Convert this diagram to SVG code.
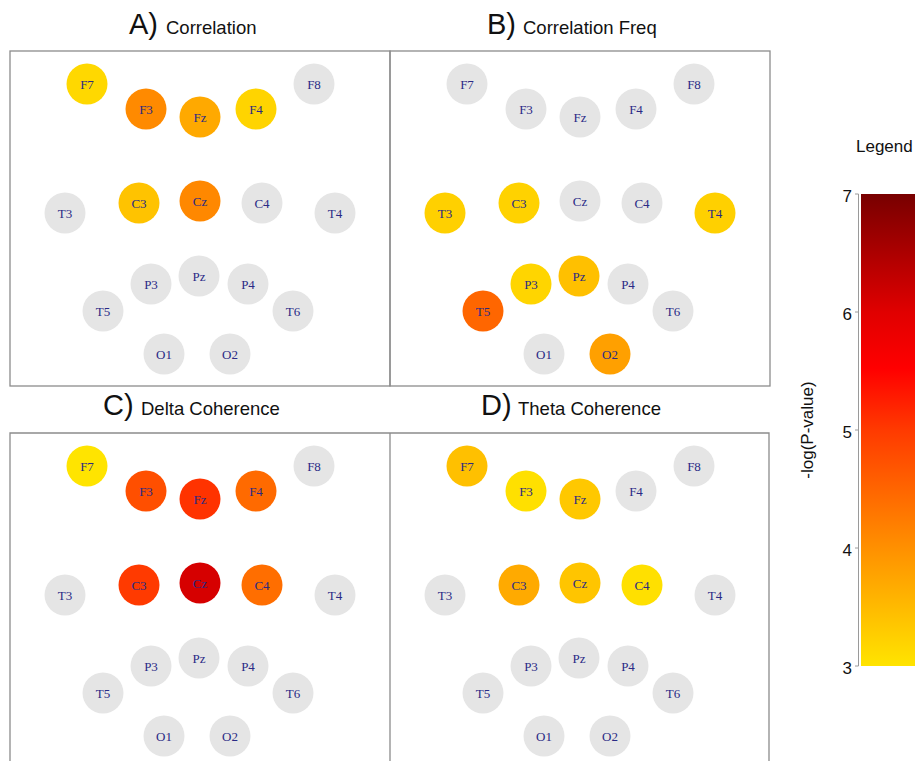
<svg xmlns="http://www.w3.org/2000/svg" width="919" height="761" viewBox="0 0 919 761">
<style>
.bg{fill:#ffffff}
.frame{fill:none;stroke:#8c8c8c;stroke-width:1.3}
.n circle{stroke:none}
.g{fill:#e5e5e5}
.n text{font-family:"Liberation Serif","Times New Roman",serif;font-size:13px;fill:#2a2a85;text-anchor:middle}
.tb{font-family:"Liberation Sans",Arial,sans-serif;font-size:29px;fill:#111}
.ts{font-family:"Liberation Sans",Arial,sans-serif;font-size:18.5px;fill:#111}
.lg{font-family:"Liberation Sans",Arial,sans-serif;font-size:17px;fill:#111}
.tick{stroke:#9a9a9a;stroke-width:1}
</style>
<defs>
<linearGradient id="heat" x1="0" y1="1" x2="0" y2="0">
<stop offset="0" stop-color="#ffe400"/>
<stop offset="0.25" stop-color="#ff9000"/>
<stop offset="0.5" stop-color="#ff3a00"/>
<stop offset="0.63" stop-color="#ff0000"/>
<stop offset="0.75" stop-color="#e00000"/>
<stop offset="1" stop-color="#780000"/>
</linearGradient>
</defs>
<rect class="bg" x="0" y="0" width="919" height="761"/>

<g id="frames">
<rect class="frame" x="10" y="51" width="380" height="335"/>
<rect class="frame" x="390" y="51" width="380" height="335"/>
<path class="frame" d="M10,770 V433 H769 V770 M390,433 V770"/>
</g>

<g id="titles">
<text x="129" y="34"><tspan class="tb">A)</tspan><tspan class="ts" x="166">Correlation</tspan></text>
<text x="487" y="34"><tspan class="tb">B)</tspan><tspan class="ts" x="523">Correlation Freq</tspan></text>
<text x="103" y="415"><tspan class="tb">C)</tspan><tspan class="ts" x="141">Delta Coherence</tspan></text>
<text x="481" y="415"><tspan class="tb">D)</tspan><tspan class="ts" x="518">Theta Coherence</tspan></text>
</g>

<g id="connectors"></g>

<!-- Panel A -->
<g id="panelA">
<g id="A-F7" class="n"><circle cx="87" cy="84" r="20.5" fill="#ffd800"/><text x="87" y="88.5">F7</text></g>
<g id="A-F3" class="n"><circle cx="146" cy="109" r="20.5" fill="#ff8a00"/><text x="146" y="113.5">F3</text></g>
<g id="A-Fz" class="n"><circle cx="200" cy="117" r="20.5" fill="#ffa900"/><text x="200" y="121.5">Fz</text></g>
<g id="A-F4" class="n"><circle cx="256" cy="109" r="20.5" fill="#ffd400"/><text x="256" y="113.5">F4</text></g>
<g id="A-F8" class="n"><circle class="g" cx="314" cy="84" r="20.5"/><text x="314" y="88.5">F8</text></g>
<g id="A-T3" class="n"><circle class="g" cx="65" cy="213" r="20.5"/><text x="65" y="217.5">T3</text></g>
<g id="A-C3" class="n"><circle cx="139" cy="203" r="20.5" fill="#ffc300"/><text x="139" y="207.5">C3</text></g>
<g id="A-Cz" class="n"><circle cx="200" cy="201" r="20.5" fill="#ff8800"/><text x="200" y="205.5">Cz</text></g>
<g id="A-C4" class="n"><circle class="g" cx="262" cy="203" r="20.5"/><text x="262" y="207.5">C4</text></g>
<g id="A-T4" class="n"><circle class="g" cx="335" cy="213" r="20.5"/><text x="335" y="217.5">T4</text></g>
<g id="A-P3" class="n"><circle class="g" cx="151" cy="284" r="20.5"/><text x="151" y="288.5">P3</text></g>
<g id="A-Pz" class="n"><circle class="g" cx="199" cy="276" r="20.5"/><text x="199" y="280.5">Pz</text></g>
<g id="A-P4" class="n"><circle class="g" cx="248" cy="284" r="20.5"/><text x="248" y="288.5">P4</text></g>
<g id="A-T5" class="n"><circle class="g" cx="103" cy="311" r="20.5"/><text x="103" y="315.5">T5</text></g>
<g id="A-T6" class="n"><circle class="g" cx="293" cy="311" r="20.5"/><text x="293" y="315.5">T6</text></g>
<g id="A-O1" class="n"><circle class="g" cx="164" cy="354" r="20.5"/><text x="164" y="358.5">O1</text></g>
<g id="A-O2" class="n"><circle class="g" cx="230" cy="354" r="20.5"/><text x="230" y="358.5">O2</text></g>
</g>

<!-- Panel B -->
<g id="panelB" transform="translate(380,0)">
<g id="B-F7" class="n"><circle class="g" cx="87" cy="84" r="20.5"/><text x="87" y="88.5">F7</text></g>
<g id="B-F3" class="n"><circle class="g" cx="146" cy="109" r="20.5"/><text x="146" y="113.5">F3</text></g>
<g id="B-Fz" class="n"><circle class="g" cx="200" cy="117" r="20.5"/><text x="200" y="121.5">Fz</text></g>
<g id="B-F4" class="n"><circle class="g" cx="256" cy="109" r="20.5"/><text x="256" y="113.5">F4</text></g>
<g id="B-F8" class="n"><circle class="g" cx="314" cy="84" r="20.5"/><text x="314" y="88.5">F8</text></g>
<g id="B-T3" class="n"><circle cx="65" cy="213" r="20.5" fill="#ffd000"/><text x="65" y="217.5">T3</text></g>
<g id="B-C3" class="n"><circle cx="139" cy="203" r="20.5" fill="#ffd200"/><text x="139" y="207.5">C3</text></g>
<g id="B-Cz" class="n"><circle class="g" cx="200" cy="201" r="20.5"/><text x="200" y="205.5">Cz</text></g>
<g id="B-C4" class="n"><circle class="g" cx="262" cy="203" r="20.5"/><text x="262" y="207.5">C4</text></g>
<g id="B-T4" class="n"><circle cx="335" cy="213" r="20.5" fill="#ffd000"/><text x="335" y="217.5">T4</text></g>
<g id="B-P3" class="n"><circle cx="151" cy="284" r="20.5" fill="#ffd500"/><text x="151" y="288.5">P3</text></g>
<g id="B-Pz" class="n"><circle cx="199" cy="276" r="20.5" fill="#ffc000"/><text x="199" y="280.5">Pz</text></g>
<g id="B-P4" class="n"><circle class="g" cx="248" cy="284" r="20.5"/><text x="248" y="288.5">P4</text></g>
<g id="B-T5" class="n"><circle cx="103" cy="311" r="20.5" fill="#ff6600"/><text x="103" y="315.5">T5</text></g>
<g id="B-T6" class="n"><circle class="g" cx="293" cy="311" r="20.5"/><text x="293" y="315.5">T6</text></g>
<g id="B-O1" class="n"><circle class="g" cx="164" cy="354" r="20.5"/><text x="164" y="358.5">O1</text></g>
<g id="B-O2" class="n"><circle cx="230" cy="354" r="20.5" fill="#ffa000"/><text x="230" y="358.5">O2</text></g>
</g>

<!-- Panel C -->
<g id="panelC" transform="translate(0,382)">
<g id="C-F7" class="n"><circle cx="87" cy="84" r="20.5" fill="#ffe400"/><text x="87" y="88.5">F7</text></g>
<g id="C-F3" class="n"><circle cx="146" cy="109" r="20.5" fill="#ff4f00"/><text x="146" y="113.5">F3</text></g>
<g id="C-Fz" class="n"><circle cx="200" cy="117" r="20.5" fill="#ff3300"/><text x="200" y="121.5">Fz</text></g>
<g id="C-F4" class="n"><circle cx="256" cy="109" r="20.5" fill="#ff6a00"/><text x="256" y="113.5">F4</text></g>
<g id="C-F8" class="n"><circle class="g" cx="314" cy="84" r="20.5"/><text x="314" y="88.5">F8</text></g>
<g id="C-T3" class="n"><circle class="g" cx="65" cy="213" r="20.5"/><text x="65" y="217.5">T3</text></g>
<g id="C-C3" class="n"><circle cx="139" cy="203" r="20.5" fill="#ff3a00"/><text x="139" y="207.5">C3</text></g>
<g id="C-Cz" class="n"><circle cx="200" cy="201" r="20.5" fill="#d60000"/><text x="200" y="205.5">Cz</text></g>
<g id="C-C4" class="n"><circle cx="262" cy="203" r="20.5" fill="#ff6e00"/><text x="262" y="207.5">C4</text></g>
<g id="C-T4" class="n"><circle class="g" cx="335" cy="213" r="20.5"/><text x="335" y="217.5">T4</text></g>
<g id="C-P3" class="n"><circle class="g" cx="151" cy="284" r="20.5"/><text x="151" y="288.5">P3</text></g>
<g id="C-Pz" class="n"><circle class="g" cx="199" cy="276" r="20.5"/><text x="199" y="280.5">Pz</text></g>
<g id="C-P4" class="n"><circle class="g" cx="248" cy="284" r="20.5"/><text x="248" y="288.5">P4</text></g>
<g id="C-T5" class="n"><circle class="g" cx="103" cy="311" r="20.5"/><text x="103" y="315.5">T5</text></g>
<g id="C-T6" class="n"><circle class="g" cx="293" cy="311" r="20.5"/><text x="293" y="315.5">T6</text></g>
<g id="C-O1" class="n"><circle class="g" cx="164" cy="354" r="20.5"/><text x="164" y="358.5">O1</text></g>
<g id="C-O2" class="n"><circle class="g" cx="230" cy="354" r="20.5"/><text x="230" y="358.5">O2</text></g>
</g>

<!-- Panel D -->
<g id="panelD" transform="translate(380,382)">
<g id="D-F7" class="n"><circle cx="87" cy="84" r="20.5" fill="#ffc000"/><text x="87" y="88.5">F7</text></g>
<g id="D-F3" class="n"><circle cx="146" cy="109" r="20.5" fill="#ffe000"/><text x="146" y="113.5">F3</text></g>
<g id="D-Fz" class="n"><circle cx="200" cy="117" r="20.5" fill="#ffc800"/><text x="200" y="121.5">Fz</text></g>
<g id="D-F4" class="n"><circle class="g" cx="256" cy="109" r="20.5"/><text x="256" y="113.5">F4</text></g>
<g id="D-F8" class="n"><circle class="g" cx="314" cy="84" r="20.5"/><text x="314" y="88.5">F8</text></g>
<g id="D-T3" class="n"><circle class="g" cx="65" cy="213" r="20.5"/><text x="65" y="217.5">T3</text></g>
<g id="D-C3" class="n"><circle cx="139" cy="203" r="20.5" fill="#ffaa00"/><text x="139" y="207.5">C3</text></g>
<g id="D-Cz" class="n"><circle cx="200" cy="201" r="20.5" fill="#ffc500"/><text x="200" y="205.5">Cz</text></g>
<g id="D-C4" class="n"><circle cx="262" cy="203" r="20.5" fill="#ffe000"/><text x="262" y="207.5">C4</text></g>
<g id="D-T4" class="n"><circle class="g" cx="335" cy="213" r="20.5"/><text x="335" y="217.5">T4</text></g>
<g id="D-P3" class="n"><circle class="g" cx="151" cy="284" r="20.5"/><text x="151" y="288.5">P3</text></g>
<g id="D-Pz" class="n"><circle class="g" cx="199" cy="276" r="20.5"/><text x="199" y="280.5">Pz</text></g>
<g id="D-P4" class="n"><circle class="g" cx="248" cy="284" r="20.5"/><text x="248" y="288.5">P4</text></g>
<g id="D-T5" class="n"><circle class="g" cx="103" cy="311" r="20.5"/><text x="103" y="315.5">T5</text></g>
<g id="D-T6" class="n"><circle class="g" cx="293" cy="311" r="20.5"/><text x="293" y="315.5">T6</text></g>
<g id="D-O1" class="n"><circle class="g" cx="164" cy="354" r="20.5"/><text x="164" y="358.5">O1</text></g>
<g id="D-O2" class="n"><circle class="g" cx="230" cy="354" r="20.5"/><text x="230" y="358.5">O2</text></g>
</g>

<!-- Legend -->
<g id="legend">
<text class="lg" x="856" y="152">Legend</text>
<rect x="861" y="194" width="54" height="472" fill="url(#heat)"/>
<path class="tick" d="M858.5,194 V666 M855,194 H858.5 M855,312 H858.5 M855,430 H858.5 M855,548 H858.5 M855,666 H858.5" fill="none"/>
<g class="lg" text-anchor="end">
<text x="852" y="202">7</text>
<text x="852" y="320">6</text>
<text x="852" y="438">5</text>
<text x="852" y="556">4</text>
<text x="852" y="674">3</text>
</g>
<text class="lg" transform="translate(813,430) rotate(-90)" text-anchor="middle">-log(P-value)</text>
</g>
</svg>
